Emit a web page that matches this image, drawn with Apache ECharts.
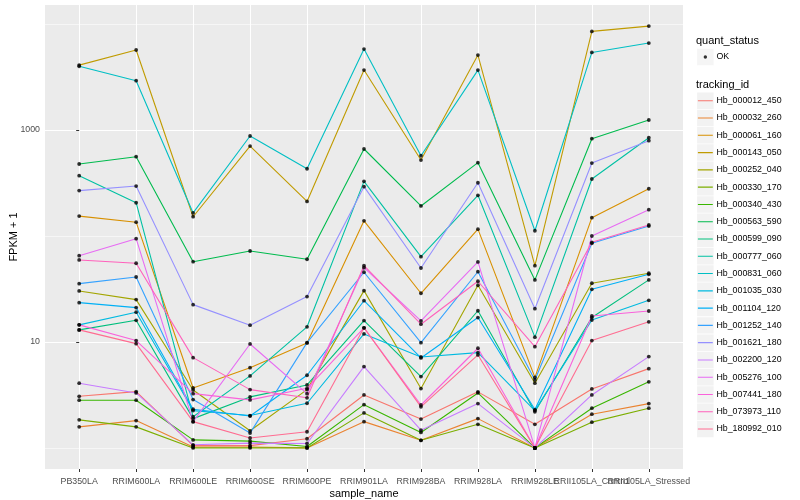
<!DOCTYPE html>
<html><head><meta charset="utf-8">
<script src="https://cdn.jsdelivr.net/npm/echarts@6/dist/echarts.min.js"></script>
<style>html,body{margin:0;padding:0;background:#fff}#c{width:800px;height:500px}</style>
</head><body><div id="c"></div>
<script>
const samples = ['PB350LA','RRIM600LA','RRIM600LE','RRIM600SE','RRIM600PE','RRIM901LA','RRIM928BA','RRIM928LA','RRIM928LE','RRII105LA_Control','RRII105LA_Stressed'];
const trackingIds = ['Hb_000012_450','Hb_000032_260','Hb_000061_160','Hb_000143_050','Hb_000252_040','Hb_000330_170','Hb_000340_430','Hb_000563_590','Hb_000599_090','Hb_000777_060','Hb_000831_060','Hb_001035_030','Hb_001104_120','Hb_001252_140','Hb_001621_180','Hb_002200_120','Hb_005276_100','Hb_007441_180','Hb_073973_110','Hb_180992_010'];
const trackingColors = ['#F8766D','#EA8331','#D89000','#C09B00','#A3A500','#7CAE00','#39B600','#00BB4E','#00BF7D','#00C1A3','#00BFC4','#00BAE0','#00B0F6','#35A2FF','#9590FF','#C77CFF','#E76BF3','#FA62DB','#FF62BC','#FF6C91'];
const quantStatus = ['OK'];
const yTickLabels = [10, 1000];
const yMinorBreaks = [1, 100, 10000];

// FPKM + 1 per sample (order of samples)
const Hb_000012_450 = [3.07, 3.40, 1.05, 1.05, 1.22, 3.16, 1.87, 3.38, 1.67, 3.60, 5.60];
const Hb_000032_260 = [1.58, 1.81, 1.02, 1.02, 1.0, 1.77, 1.18, 1.89, 1.0, 2.08, 2.62];
const Hb_000061_160 = [154, 135, 3.68, 5.72, 9.79, 139, 28.8, 116, 4.63, 149, 279];
const Hb_000143_050 = [4100, 5690, 152, 706, 212, 3680, 521, 5100, 52.5, 8530, 9570];
const Hb_000252_040 = [30.3, 25.1, 3.52, 1.45, 3.55, 30.5, 3.63, 34.3, 4.08, 35.8, 44.5];
const Hb_000330_170 = [1.84, 1.58, 1.0, 1.0, 1.0, 2.14, 1.18, 1.67, 1.0, 1.75, 2.37];
const Hb_000340_430 = [2.82, 2.82, 1.19, 1.16, 1.03, 2.56, 1.40, 3.30, 1.0, 2.37, 4.20];
const Hb_000563_590 = [478, 560, 57.2, 72.2, 60.3, 662, 192, 492, 38.5, 828, 1243];
const Hb_000599_090 = [13.0, 16.0, 1.89, 3.03, 3.93, 15.9, 4.71, 19.7, 2.19, 17.0, 38.5];
const Hb_000777_060 = [371, 206, 1.97, 4.78, 13.9, 328, 63.8, 242, 11.1, 345, 846];
const Hb_000831_060 = [4000, 2920, 165, 878, 431, 5810, 572, 3680, 112, 5400, 6620];
const Hb_001035_030 = [14.5, 19.1, 2.25, 2.02, 2.64, 11.9, 7.22, 7.93, 2.25, 16.1, 24.7];
const Hb_001104_120 = [23.5, 21.1, 2.32, 2.0, 4.85, 24.5, 7.06, 17.0, 2.3, 31.4, 43.5];
const Hb_001252_140 = [35.5, 41.0, 2.86, 1.38, 9.85, 45.5, 9.85, 46.0, 4.38, 85.3, 124];
const Hb_001621_180 = [268, 296, 22.5, 14.4, 26.8, 292, 49.9, 318, 20.6, 488, 793];
const Hb_002200_120 = [4.08, 3.30, 1.07, 1.11, 1.10, 5.85, 1.47, 2.62, 1.0, 3.16, 7.27];
const Hb_005276_100 = [65.2, 94.3, 1.77, 9.57, 3.25, 50.2, 15.8, 56.9, 1.0, 100, 177];
const Hb_007441_180 = [14.5, 10.3, 3.25, 2.84, 3.65, 13.6, 2.54, 8.72, 1.0, 17.6, 19.6];
const Hb_073973_110 = [59.4, 55.3, 7.11, 3.55, 2.97, 52.5, 14.7, 37.4, 9.03, 87.2, 127];
const Hb_180992_010 = [13.0, 9.64, 1.77, 1.24, 1.42, 13.6, 2.44, 7.54, 1.0, 10.3, 15.5];

const trackingValues = [Hb_000012_450, Hb_000032_260, Hb_000061_160, Hb_000143_050, Hb_000252_040, Hb_000330_170, Hb_000340_430, Hb_000563_590, Hb_000599_090, Hb_000777_060, Hb_000831_060, Hb_001035_030, Hb_001104_120, Hb_001252_140, Hb_001621_180, Hb_002200_120, Hb_005276_100, Hb_007441_180, Hb_073973_110, Hb_180992_010];

const FONT = '"Liberation Sans", Arial, Helvetica, sans-serif';
const sampleIdx = samples.map((s, i) => i);
// discrete-axis expansion of 0.6 on each side (as ggplot)
const xMin = -0.6, xMax = samples.length - 1 + 0.6;
const xTickValues = sampleIdx.concat([xMax]);
// ggplot-like expansion: log range of data expanded by 5%
const allVals = trackingValues.flat();
const lmin = Math.log10(Math.min(...allVals)), lmax = Math.log10(Math.max(...allVals));
const pad = (lmax - lmin) * 0.05;
const yMin = Math.pow(10, lmin - pad), yMax = Math.pow(10, lmax + pad);

const corner = 'M0,0h0.01v0.01h-0.01z M17.27,17.27h0.01v0.01h-0.01z ';
const bgIcon = 'path://' + corner + 'M0.4,0.4h16.48v16.48h-16.48z';
const lineIcon = 'path://' + corner + 'M1.2,8.1h14.9v1.1h-14.9z';
const dotIcon = 'path://' + corner + 'M6.94,8.64A1.7,1.7 0 1 1 10.34,8.64A1.7,1.7 0 1 1 6.94,8.64Z';

const lineSeries = trackingIds.map((id, k) => ({
  name: id, type: 'line', z: 2,
  data: trackingValues[k].map((v, i) => [i, v]),
  showSymbol: false, symbol: 'none',
  lineStyle: {color: trackingColors[k], width: 1.1},
  itemStyle: {color: trackingColors[k]},
  emphasis: {disabled: true}, silent: true,
  markLine: k === 0 ? {
    silent: true, symbol: 'none', z: 1, label: {show: false},
    lineStyle: {color: '#ffffff', width: 0.55, type: 'solid'},
    data: yMinorBreaks.map(b => ({yAxis: b}))
  } : undefined
}));

const pointData = [];
trackingValues.forEach(arr => arr.forEach((v, i) => pointData.push([i, v])));

const legendBase = {orient: 'vertical', left: 696.7, itemWidth: 17.28, itemHeight: 17.28, itemGap: 0, padding: 0,
  selectedMode: false, textStyle: {fontSize: 8.8, fontFamily: FONT, color: '#000', padding: [0, 0, 0, -2.5]}};

const option = {
  animation: false,
  backgroundColor: '#ffffff',
  textStyle: {fontFamily: FONT},
  title: [
    {text: 'quant_status', left: 696, top: 35, padding: 0, textStyle: {fontSize: 11, fontWeight: 'normal', color: '#000', fontFamily: FONT}},
    {text: 'tracking_id', left: 696, top: 79, padding: 0, textStyle: {fontSize: 11, fontWeight: 'normal', color: '#000', fontFamily: FONT}}
  ],
  legend: [
    Object.assign({}, legendBase, {top: 48.4, data: quantStatus, icon: bgIcon, z: 1,
      itemStyle: {color: '#F2F2F2', borderWidth: 0}, textStyle: Object.assign({}, legendBase.textStyle, {color: 'rgba(0,0,0,0)'})}),
    Object.assign({}, legendBase, {top: 48.4, data: quantStatus, icon: dotIcon, z: 3,
      itemStyle: {color: '#000', borderWidth: 0}}),
    Object.assign({}, legendBase, {top: 92.1, data: trackingIds, icon: bgIcon, z: 1,
      itemStyle: {color: '#F2F2F2', borderWidth: 0}, textStyle: Object.assign({}, legendBase.textStyle, {color: 'rgba(0,0,0,0)'})}),
    Object.assign({}, legendBase, {top: 92.1, data: trackingIds, icon: lineIcon, z: 3,
      itemStyle: {borderWidth: 0}})
  ],
  grid: {left: 45, right: 117, top: 5, bottom: 31, show: true, backgroundColor: '#EBEBEB', borderWidth: 0,
    containLabel: false, outerBoundsMode: 'none'},
  xAxis: {
    type: 'value', min: xMin, max: xMax, splitNumber: 11,
    axisLine: {show: false},
    axisTick: {show: true, length: 3, customValues: xTickValues, lineStyle: {color: '#333333', width: 1}},
    axisLabel: {customValues: xTickValues, formatter: v => samples[Math.round(v)] && Math.abs(v - Math.round(v)) < 1e-6 ? samples[Math.round(v)] : '',
      fontSize: 8.8, color: '#4D4D4D', margin: 8, fontFamily: FONT, hideOverlap: false, showMaxLabel: false},
    splitLine: {show: true, lineStyle: {color: '#ffffff', width: 1.07}},
    name: 'sample_name', nameLocation: 'middle', nameGap: 19, nameMoveOverlap: false,
    nameTextStyle: {fontSize: 11, color: '#000', fontFamily: FONT}
  },
  yAxis: {
    type: 'log', logBase: 10, min: yMin, max: yMax,
    axisLine: {show: false},
    axisTick: {show: true, length: 3, customValues: yTickLabels, lineStyle: {color: '#333333', width: 1}},
    axisLabel: {customValues: yTickLabels, formatter: v => String(Math.round(v)), fontSize: 8.8, color: '#4D4D4D', margin: 5, fontFamily: FONT, hideOverlap: false},
    splitLine: {show: true, lineStyle: {color: '#ffffff', width: 1.07}},
    name: 'FPKM + 1', nameLocation: 'middle', nameGap: 26, nameRotate: 90, nameMoveOverlap: false,
    nameTextStyle: {fontSize: 11, color: '#000', fontFamily: FONT}
  },
  series: lineSeries.concat([{
    name: 'OK', type: 'scatter', z: 4, data: pointData, symbol: 'circle', symbolSize: 3.8,
    itemStyle: {color: '#000'}, silent: true, emphasis: {disabled: true}
  }])
};
const chart = echarts.init(document.getElementById('c'), null, {renderer: 'canvas'});
chart.setOption(option);
</script></body></html>
